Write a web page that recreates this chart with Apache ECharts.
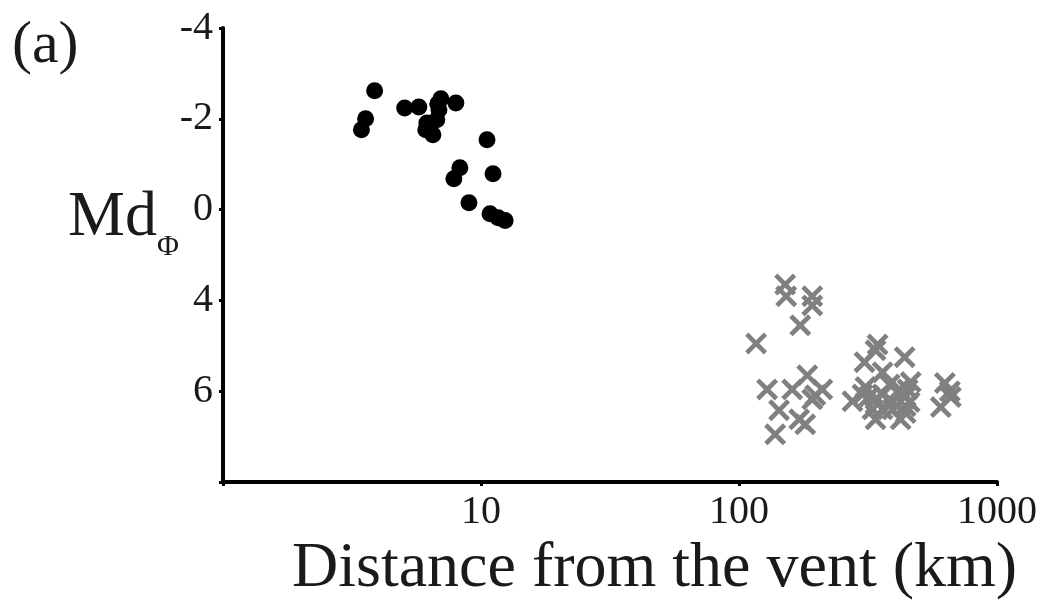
<!DOCTYPE html>
<html>
<head>
<meta charset="utf-8">
<style>
  html, body { margin: 0; padding: 0; background: #fff; }
  #chart { width: 1041px; height: 601px; }
</style>
<script src="https://cdn.jsdelivr.net/npm/echarts@6/dist/echarts.min.js"></script>
</head>
<body>
<div id="chart"></div>
<script>
// Proximal samples: distance from the vent (km) and Md position on the y scale
const proximalDistance = [3.44, 3.57, 3.87, 5.06, 5.74, 6.80, 6.99, 7.99, 6.11, 6.17, 6.51, 6.74, 6.87, 10.55, 8.28, 7.85, 11.13, 8.98, 10.84, 11.65, 12.40];
const proximalMd = [-1.76, -2.00, -2.62, -2.24, -2.26, -2.33, -2.44, -2.35, -1.76, -1.91, -1.65, -1.98, -2.20, -1.54, -0.92, -0.68, -0.79, -0.15, 0.09, 0.18, 0.24];

// Distal samples
const distalDistance = [151.0, 152.4, 192.3, 192.3, 172.8, 116.5, 128.5, 160.8, 183.9, 210.4, 192.3, 143.0, 171.2, 180.6, 138.1, 197.6,
  344.4, 338.2, 306.5, 438.5, 360.1, 275.3, 309.3, 320.5, 338.2, 360.1, 419.4, 442.4, 458.6, 393.9, 338.2, 423.2, 442.4, 383.5, 450.5, 462.8,
  627.8, 656.5, 605.6, 662.3, 360.1, 393.9, 301.0, 329.2, 442.4];
const distalMd = [1.65, 1.91, 1.91, 2.11, 2.55, 2.95, 3.96, 3.96, 3.65, 3.96, 4.18, 4.42, 4.62, 4.73, 4.95, 4.09,
  2.97, 3.10, 3.36, 3.25, 3.58, 4.22, 3.91, 4.11, 4.18, 4.40, 3.96, 4.11, 4.24, 4.24, 4.62, 4.62, 4.48, 3.85, 3.96, 3.80,
  3.82, 4.00, 4.35, 4.13, 4.07, 4.40, 4.07, 4.40, 4.33];

// Evenly spaced y ticks and the labels printed at them
const yTickValues = [-4, -2, 0, 2, 4];
const yTickLabels = ['-4', '-2', '0', '4', '6'];
const xTickLabels = ['10', '100', '1000'];

const pairs = (xs, ys) => xs.map((x, i) => [x, ys[i]]);

const crossPath = 'path://M3,0 L10,7 L17,0 L20,3 L13,10 L20,17 L17,20 L10,13 L3,20 L0,17 L7,10 L0,3 Z';
const serif = '"Liberation Serif", "Times New Roman", serif';
const ink = '#1a1a1a';

const chart = echarts.init(document.getElementById('chart'), null, { renderer: 'canvas' });
chart.setOption({
  animation: false,
  backgroundColor: '#ffffff',
  grid: { left: 223, right: 44, top: 28, bottom: 119, containLabel: false, outerBoundsMode: 'none' },
  xAxis: {
    type: 'log',
    logBase: 10,
    min: 1,
    max: 1000,
    axisLine: { show: true, onZero: false, lineStyle: { color: '#000', width: 4 } },
    axisTick: { show: true, length: 4, lineStyle: { color: '#000', width: 3 } },
    splitLine: { show: false },
    axisLabel: {
      margin: 10,
      fontFamily: serif,
      fontSize: 40,
      color: ink,
      formatter: v => (xTickLabels.indexOf(String(Math.round(v))) >= 0 ? String(Math.round(v)) : '')
    }
  },
  yAxis: {
    type: 'value',
    inverse: true,
    min: -4,
    max: 6,
    interval: 2,
    axisLine: { show: true, onZero: false, lineStyle: { color: '#000', width: 4 } },
    axisTick: { show: true, length: 4, lineStyle: { color: '#000', width: 3 } },
    splitLine: { show: false },
    axisLabel: {
      margin: 10,
      fontFamily: serif,
      fontSize: 40,
      color: ink,
      formatter: v => {
        const i = yTickValues.indexOf(Math.round(v));
        return i >= 0 ? yTickLabels[i] : '';
      }
    }
  },
  series: [
    {
      name: 'distal',
      type: 'scatter',
      data: pairs(distalDistance, distalMd),
      symbol: crossPath,
      symbolSize: 22,
      itemStyle: { color: '#808080', opacity: 1 }
    },
    {
      name: 'proximal',
      type: 'scatter',
      data: pairs(proximalDistance, proximalMd),
      symbol: 'circle',
      symbolSize: 17,
      itemStyle: { color: '#000000', opacity: 1 }
    }
  ],
  graphic: [
    { type: 'text', left: 12, top: 16, style: { text: '(a)', font: '60px ' + serif, fill: ink } },
    { type: 'text', left: 68, top: 186, style: { text: 'Md', font: '64px ' + serif, fill: ink } },
    { type: 'text', left: 157, top: 232, style: { text: 'Φ', font: '30px ' + serif, fill: ink } },
    { type: 'text', left: 292, top: 537, style: { text: 'Distance from the vent (km)', font: '64px ' + serif, fill: ink } }
  ]
});
</script>
</body>
</html>
